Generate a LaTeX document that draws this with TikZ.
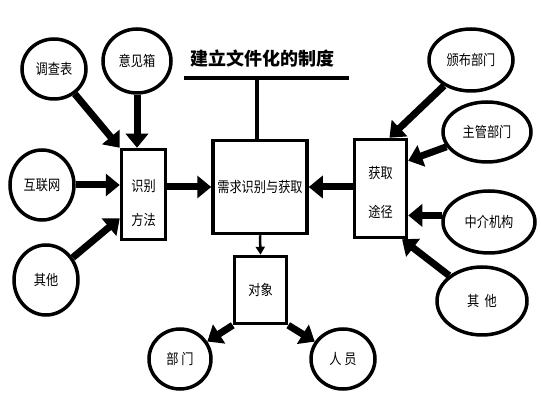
\documentclass[tikz,border=0pt]{standalone}
\usepackage{fontspec}
\newfontfamily\cjk[FakeStretch=0.84]{Noto Sans CJK SC}
\newfontfamily\cjktitle{Noto Sans CJK SC}
\usepackage{tikz}
\usetikzlibrary{shapes.geometric,arrows.meta,positioning}
\tikzstyle{oval}=[draw,ellipse,line width=3.5pt,inner sep=0pt,minimum width=64pt,minimum height=60pt,font=\cjk\fontsize{14.5}{16}\selectfont]
\tikzstyle{wideoval}=[oval,minimum width=88pt,minimum height=62pt]
\tikzstyle{block}=[draw,rectangle,line width=3.5pt,inner sep=0pt,align=center,font=\cjk\fontsize{14.5}{16}\selectfont]
\tikzstyle{fat}=[line width=7pt,-{Triangle[length=14pt,width=22pt]}]
\tikzstyle{thin}=[line width=2.5pt,-{Triangle[length=8pt,width=9pt]}]

\begin{document}
\begin{tikzpicture}[x=1pt,y=-1pt]
\useasboundingbox (0,0) rectangle (541,411);
% title and its line
\node [font=\cjktitle\bfseries\fontsize{18}{20}\selectfont] (title) at (262,59) {建立文件化的制度};
\coordinate (ulL) at (184,78);
\coordinate (ulR) at (349,78);
\coordinate (ulM) at (257,78);
\draw [line width=4pt] (ulL) -- (ulR);
% boxes
\node [block,minimum width=94pt,minimum height=93pt] (xq) at (260,187) {需求识别与获取};
\node [block,minimum width=44pt,minimum height=90pt] (fangfa) at (143.5,194.5) {\raisebox{-31pt}[0pt][0pt]{\shortstack{识别\\[18pt]方法}}};
\node [block,minimum width=52pt,minimum height=98pt] (huoqu) at (380.5,188.5) {\raisebox{-29pt}[0pt][0pt]{\shortstack{获取\\[22pt]途径}}};
\node [block,minimum width=52pt,minimum height=67pt] (duixiang) at (260.5,290) {\raisebox{-4pt}{对象}};
\draw [line width=4pt] (ulM) -- (ulM |- xq.north);
% left ovals
\node [oval] (dcb) at (54,69) {调查表};
\node [oval,minimum width=68pt,minimum height=64pt] (yjx) at (137,61) {意见箱};
\node [oval,minimum height=70pt] (hlw) at (42,185) {互联网};
\node [oval,minimum height=70pt] (qtL) at (46,280) {其他};
% right ovals
\node [wideoval,minimum width=84pt] (bbbm) at (471,60) {颁布部门};
\node [wideoval,minimum height=60pt] (zgbm) at (487,132) {主管部门};
\node [wideoval,minimum width=92pt] (zjjg) at (489,222) {中介机构};
\node [wideoval,minimum width=90pt,minimum height=68pt] (qtR) at (482,301) {其\ \ 他};
% bottom ovals
\node [oval,minimum width=62pt] (bm) at (180,359) {部\ 门};
\node [oval] (ry) at (343,359) {人\ 员};
% arrows into the left box
\draw [fat] (dcb) -- (fangfa.north west);
\draw [fat] (yjx) -- (yjx |- fangfa.north);
\draw [fat] (hlw) -- (fangfa.west |- hlw);
\draw [fat] (qtL) -- (fangfa.225);
% arrows into the right box
\draw [fat] (bbbm) -- (huoqu.80);
\draw [fat] (zgbm) -- (huoqu.45);
\draw [fat] (zjjg.172) -- (huoqu.east |- zjjg.172);
\draw [fat] (qtR) -- (huoqu.293);
% arrows into the centre box
\draw [fat] (fangfa.east |- xq) -- (xq.west);
\draw [fat] (huoqu.west |- xq) -- (xq.east);
% object
\draw [thin] (xq.south) -- (duixiang.north);
\draw [fat] (duixiang.south west) -- (bm);
\draw [fat] (duixiang.south east) -- (ry);
\end{tikzpicture}
\end{document}
